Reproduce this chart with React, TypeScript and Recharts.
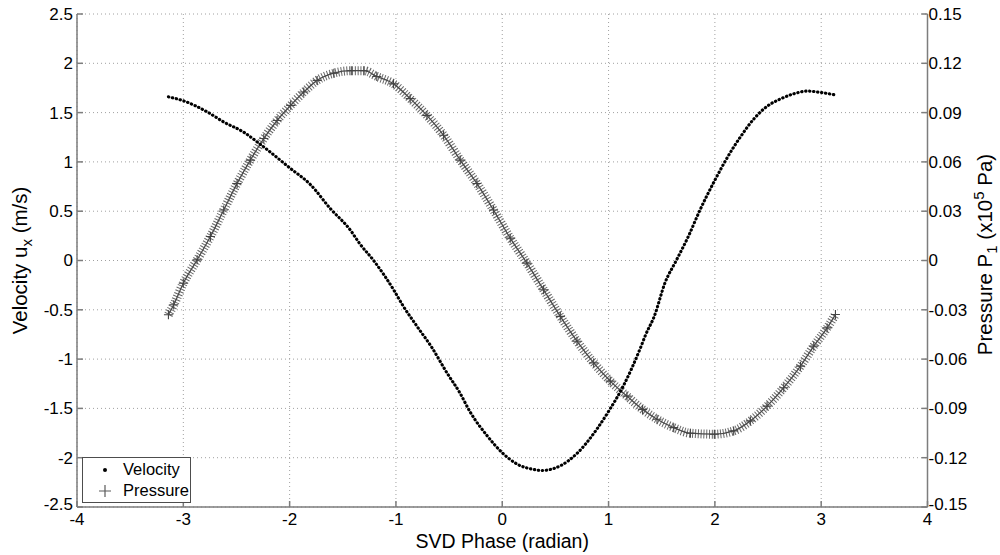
/** SVD phase plot: velocity (left axis, black dots) and pressure (right axis,
 *  grey crosses), drawn MATLAB-style with a boxed frame and dotted grid. */
import { CartesianGrid, ComposedChart, Legend, Line, XAxis, YAxis } from "recharts";

const FONT = "'Liberation Sans', Arial, Helvetica, sans-serif";
const AXIS_GREY = "#7d7d7d";

const phaseTicks = [-4, -3, -2, -1, 0, 1, 2, 3, 4];
const velocityTicks = [-2.5, -2, -1.5, -1, -0.5, 0, 0.5, 1, 1.5, 2, 2.5];
const pressureTicks = [-0.15, -0.12, -0.09, -0.06, -0.03, 0, 0.03, 0.06, 0.09, 0.12, 0.15];
const legendOrder = ["Velocity", "Pressure"];

// velocity u_x (m/s) against SVD phase (radian)
const velocityPhase = [
  -3.14, -3.0, -2.78, -2.62, -2.43, -2.29, -2.0, -1.8, -1.62, -1.43, -1.34, -1.21,
  -1.02, -0.93, -0.8, -0.66, -0.52, -0.4, -0.3, -0.14, 0.0, 0.14, 0.3, 0.37, 0.55,
  0.7, 0.89, 1.0, 1.14, 1.3, 1.35, 1.43, 1.53, 1.64, 1.75, 1.86, 2.0, 2.12, 2.24,
  2.37, 2.49, 2.62, 2.74, 2.87, 2.99, 3.13,
];
const velocityValues = [
  1.66, 1.62, 1.51, 1.405, 1.3, 1.19, 0.94, 0.765, 0.53, 0.31, 0.17, 0.0,
  -0.3, -0.465, -0.67, -0.886, -1.14, -1.34, -1.54, -1.78, -1.95, -2.065, -2.12, -2.13, -2.08,
  -1.96, -1.71, -1.53, -1.27, -0.886, -0.75, -0.566, -0.229, 0.007, 0.243, 0.512, 0.815, 1.05, 1.253,
  1.44, 1.563, 1.64, 1.69, 1.718, 1.705, 1.68,
];

// pressure P_1 (x10^5 Pa) against SVD phase (radian)
const pressurePhase = [
  -3.14, -3.09, -3.0, -2.87, -2.745, -2.62, -2.494, -2.37, -2.243, -2.118, -1.99, -1.867,
  -1.741, -1.584, -1.42, -1.3, -1.18, -1.023, -0.866, -0.709, -0.552, -0.395, -0.239,
  -0.082, 0.075, 0.232, 0.389, 0.546, 0.703, 0.86, 1.016, 1.173, 1.32, 1.456, 1.613,
  1.77, 1.995, 2.177, 2.334, 2.491, 2.648, 2.805, 2.93, 3.056, 3.134,
];
const pressureValues = [
  -0.033, -0.0269, -0.0138, 0.0004, 0.0146, 0.0307, 0.0469, 0.0611, 0.0742, 0.0852, 0.0944, 0.1025,
  0.1096, 0.114, 0.1155, 0.1155, 0.112, 0.1075, 0.0985, 0.0883, 0.0762, 0.0611, 0.0469,
  0.0307, 0.0136, -0.0016, -0.0178, -0.034, -0.0491, -0.0623, -0.0734, -0.0825, -0.0906, -0.0966, -0.1017,
  -0.1051, -0.1057, -0.1037, -0.0976, -0.0886, -0.0774, -0.0643, -0.0521, -0.041, -0.0329,
];

const velocityData = velocityPhase.map((x, i) => ({ x, v: velocityValues[i] }));
const pressureData = pressurePhase.map((x, i) => ({ x, p: pressureValues[i] }));

const TICK_FONT = 17;

function CrossDot(props: any) {
  const { cx, cy } = props;
  if (cx == null || cy == null) return null;
  return (
    <path
      d={`M${cx - 4.5},${cy}H${cx + 4.5}M${cx},${cy - 4.5}V${cy + 4.5}`}
      stroke="#444"
      strokeWidth={1.1}
      fill="none"
    />
  );
}

// y tick label; the lowest one is nudged up so it clears the x labels, as MATLAB does
function YTick(props: any) {
  const { x, y, payload, textAnchor, tickFormatter, index } = props;
  const label = tickFormatter ? tickFormatter(payload.value, index) : String(payload.value);
  const lift = index === 0 ? -3 : 0;
  return (
    <text
      x={x}
      y={y + lift}
      dy="0.35em"
      textAnchor={textAnchor}
      fontFamily={FONT}
      fontSize={TICK_FONT}
      fill="#000"
    >
      {label}
    </text>
  );
}

function XTick(props: any) {
  const { x, y, payload } = props;
  return (
    <text x={x} y={y} dy="0.71em" textAnchor="middle" fontFamily={FONT} fontSize={TICK_FONT} fill="#000">
      {String(payload.value)}
    </text>
  );
}

function VelocityTitle({ viewBox }: any) {
  const cx = viewBox.x + 27;
  const cy = viewBox.y + viewBox.height / 2;
  return (
    <text
      x={cx}
      y={cy}
      transform={`rotate(-90, ${cx}, ${cy})`}
      textAnchor="middle"
      fontFamily={FONT}
      fontSize={20.5}
      fill="#000"
    >
      Velocity u
      <tspan fontSize={15} dy={5}>x</tspan>
      <tspan dy={-5}> (m/s)</tspan>
    </text>
  );
}

function PressureTitle({ viewBox }: any) {
  const cx = viewBox.x + viewBox.width - 8.5;
  const cy = viewBox.y + viewBox.height / 2 - 6;
  return (
    <text
      x={cx}
      y={cy}
      transform={`rotate(-90, ${cx}, ${cy})`}
      textAnchor="middle"
      fontFamily={FONT}
      fontSize={20.5}
      fill="#000"
    >
      Pressure P
      <tspan fontSize={15} dy={5}>1</tspan>
      <tspan dy={-5}> (x10</tspan>
      <tspan fontSize={15} dy={-8}>5</tspan>
      <tspan dy={8}> Pa)</tspan>
    </text>
  );
}

function PhaseTitle({ viewBox }: any) {
  return (
    <text
      x={viewBox.x + viewBox.width / 2}
      y={viewBox.y + 41}
      textAnchor="middle"
      fontFamily={FONT}
      fontSize={19.5}
      fill="#000"
    >
      SVD Phase (radian)
    </text>
  );
}

function MatlabLegend({ payload }: any) {
  const entries = (payload ?? [])
    .filter((e: any) => legendOrder.includes(e.value))
    .sort((a: any, b: any) => legendOrder.indexOf(a.value) - legendOrder.indexOf(b.value));
  return (
    <div
      style={{
        boxSizing: "border-box",
        width: 109,
        height: 46,
        border: "1px solid #4d4d4d",
        background: "#fff",
        padding: "1px 0",
        fontFamily: FONT,
        fontSize: 16.5,
        lineHeight: "21px",
      }}
    >
      {entries.map((entry: any) => (
        <div key={entry.value} style={{ display: "flex", alignItems: "center", height: 21 }}>
          <svg width={40} height={21} style={{ flex: "none" }}>
            {entry.value === "Velocity" ? (
              <circle cx={22} cy={11} r={2} fill="#000" />
            ) : (
              <path d="M16,11H28M22,5V17" stroke="#5a5a5a" strokeWidth={1.2} />
            )}
          </svg>
          <span>{entry.value}</span>
        </div>
      ))}
    </div>
  );
}

export default function App() {
  return (
    <div style={{ position: "absolute", left: 0, top: 0, background: "#fff" }}>
      <ComposedChart width={1000} height={555} margin={{ top: 14, right: 0, bottom: 0, left: 0 }}>
        <CartesianGrid xAxisId="phase" yAxisId="vel" stroke="#a0a0a0" strokeDasharray="1 3" />
        <XAxis
          xAxisId="phase"
          dataKey="x"
          type="number"
          domain={[-4, 4]}
          ticks={phaseTicks}
          allowDataOverflow
          height={48}
          stroke={AXIS_GREY}
          strokeWidth={1.5}
          tickSize={-6}
          tickMargin={11.5}
          tick={<XTick />}
          label={{ content: PhaseTitle }}
        />
        <XAxis
          xAxisId="top"
          orientation="top"
          type="number"
          domain={[-4, 4]}
          ticks={phaseTicks}
          allowDataOverflow
          height={0}
          stroke={AXIS_GREY}
          strokeWidth={1.5}
          tickSize={-6}
          tick={false}
        />
        <YAxis
          yAxisId="vel"
          type="number"
          domain={[-2.5, 2.5]}
          ticks={velocityTicks}
          allowDataOverflow
          width={77}
          stroke={AXIS_GREY}
          strokeWidth={1.5}
          tickSize={-6}
          tickMargin={10}
          tick={<YTick />}
          label={{ content: VelocityTitle }}
        />
        <YAxis
          yAxisId="pres"
          orientation="right"
          type="number"
          domain={[-0.15, 0.15]}
          ticks={pressureTicks}
          allowDataOverflow
          width={72.5}
          stroke={AXIS_GREY}
          strokeWidth={1.5}
          tickSize={-6}
          tickMargin={7}
          tick={<YTick />}
          tickFormatter={(v: number) => (v === 0 ? "0" : v.toFixed(2))}
          label={{ content: PressureTitle }}
        />
        <Legend
          layout="horizontal"
          verticalAlign="middle"
          align="center"
          content={MatlabLegend}
          wrapperStyle={{ left: 82, top: 457, width: 109, height: 46 }}
        />
        <Line
          data={pressureData}
          xAxisId="phase"
          yAxisId="pres"
          dataKey="p"
          name="Pressure band"
          type="monotone"
          stroke="#666"
          strokeWidth={9}
          strokeDasharray="1 1.8"
          dot={false}
          activeDot={false}
          legendType="none"
          isAnimationActive={false}
        />
        <Line
          data={pressureData}
          xAxisId="phase"
          yAxisId="pres"
          dataKey="p"
          name="Pressure"
          type="monotone"
          stroke="#4a4a4a"
          strokeWidth={1.3}
          dot={<CrossDot />}
          activeDot={false}
          isAnimationActive={false}
        />
        <Line
          data={velocityData}
          xAxisId="phase"
          yAxisId="vel"
          dataKey="v"
          name="Velocity"
          type="monotone"
          stroke="#000"
          strokeWidth={3.1}
          strokeLinecap="round"
          strokeDasharray="0.4 3.6"
          dot={false}
          activeDot={false}
          isAnimationActive={false}
        />
      </ComposedChart>
    </div>
  );
}
